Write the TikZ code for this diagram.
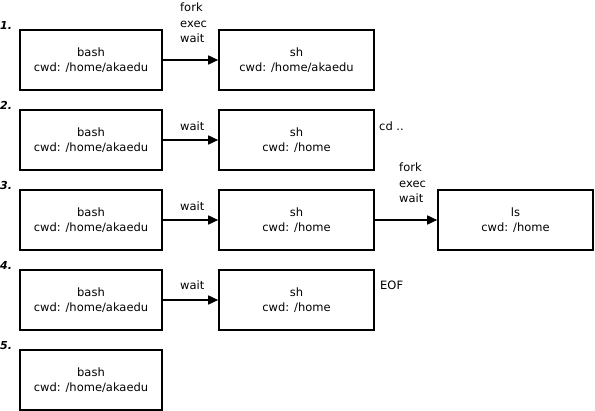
\documentclass[tikz,border=0pt]{standalone}
\usepackage{fontspec}
\setmainfont{DejaVu Sans}
\usetikzlibrary{arrows.meta}
\begin{document}
\begin{tikzpicture}[x=1pt,y=-1pt,
  proc/.style={draw,line width=1.6pt,minimum height=60pt,inner sep=0pt,align=center,
    font=\fontsize{11.5}{15.5}\selectfont},
  bashbox/.style={proc,minimum width=142pt},
  shbox/.style={proc,minimum width=155pt},
  conn/.style={line width=1.6pt,-{Triangle[length=10pt,width=9pt]}},
  lbl/.style={inner sep=0pt,anchor=base west,align=left,font=\fontsize{11.5}{15.5}\selectfont},
  num/.style={inner sep=0pt,anchor=base west,font=\fontsize{11}{13}\selectfont\bfseries\itshape}]
\useasboundingbox (0,0) rectangle (595,411);
% row numbers
\node[num] (n1) at (0,30) {1.};
\node[num] (n2) at (0,110) {2.};
\node[num] (n3) at (0,190) {3.};
\node[num] (n4) at (0,270) {4.};
\node[num] (n5) at (0,350) {5.};
% boxes
\node[bashbox] (bash1) at (91,60) {bash\\cwd: /home/akaedu};
\node[shbox] (sh1) at (296.5,60) {sh\\cwd: /home/akaedu};
\node[bashbox] (bash2) at (91,140) {bash\\cwd: /home/akaedu};
\node[shbox] (sh2) at (296.5,140) {sh\\cwd: /home};
\node[bashbox] (bash3) at (91,220) {bash\\cwd: /home/akaedu};
\node[shbox] (sh3) at (296.5,220) {sh\\cwd: /home};
\node[shbox] (ls3) at (515.5,220) {ls\\cwd: /home};
\node[bashbox] (bash4) at (91,300) {bash\\cwd: /home/akaedu};
\node[shbox] (sh4) at (296.5,300) {sh\\cwd: /home};
\node[bashbox] (bash5) at (91,380) {bash\\cwd: /home/akaedu};
% connectors
\draw[conn] (bash1) -- (sh1);
\draw[conn] (bash2) -- (sh2);
\draw[conn] (bash3) -- (sh3);
\draw[conn] (sh3) -- (ls3);
\draw[conn] (bash4) -- (sh4);
% labels
\node[lbl] (l1) at (180,43) {fork\\exec\\wait};
\node[lbl] (l2) at (180,131) {wait};
\node[lbl] (c2) at (379,131) {cd ..};
\node[lbl] (l3a) at (180,211) {wait};
\node[lbl] (l3b) at (399,203) {fork\\exec\\wait};
\node[lbl] (l4) at (180,290) {wait};
\node[lbl] (e4) at (380,290) {EOF};
\end{tikzpicture}
\end{document}
